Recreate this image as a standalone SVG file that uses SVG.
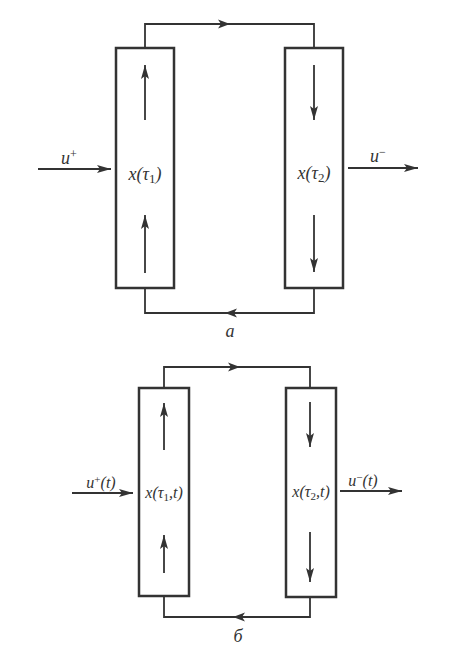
<svg xmlns="http://www.w3.org/2000/svg" width="460" height="662" viewBox="0 0 460 662">
<style>
.box{fill:none;stroke:#333;stroke-width:2.5}
.ln{fill:none;stroke:#333;stroke-width:1.8}
.ar{fill:#333}
text{font-family:"Liberation Serif","DejaVu Serif",serif;fill:#333}
.v{font-style:italic;font-size:18px}
.vs{font-style:italic;font-size:16px}
.lab{font-style:italic;font-size:18px}
</style>
<defs>
<marker id="ah" viewBox="0 0 14 8" refX="14" refY="4" markerWidth="14" markerHeight="8" markerUnits="userSpaceOnUse" orient="auto">
<path d="M0,0 L14,4 L0,8 L3,4 Z" fill="#333"/>
</marker>
</defs>
<rect width="460" height="662" fill="#fff"/>

<g id="connectors">
<path class="ln" d="M145,48 V24 H314 V48"/>
<path class="ln" d="M145,288 V313 H314 V288"/>
<path class="ar" d="M230,24 L218,19.5 L221,24 L218,28.5 Z"/>
<path class="ar" d="M225,313 L237,308.5 L234,313 L237,317.5 Z"/>
<line class="ln" x1="38" y1="169" x2="111" y2="169" marker-end="url(#ah)"/>
<line class="ln" x1="348" y1="168" x2="418" y2="168" marker-end="url(#ah)"/>
<path class="ln" d="M164,388 V367 H310 V388"/>
<path class="ln" d="M164,596 V617 H310 V597"/>
<path class="ar" d="M240,367 L228,362.5 L231,367 L228,371.5 Z"/>
<path class="ar" d="M233,617 L245,612.5 L242,617 L245,621.5 Z"/>
<line class="ln" x1="72" y1="493" x2="133" y2="493" marker-end="url(#ah)"/>
<line class="ln" x1="340" y1="491" x2="402" y2="491" marker-end="url(#ah)"/>
</g>

<g id="box-a1">
<rect class="box" x="116" y="48" width="58" height="240"/>
<line class="ln" x1="145" y1="120" x2="145" y2="65" marker-end="url(#ah)"/>
<line class="ln" x1="145" y1="273" x2="145" y2="215" marker-end="url(#ah)"/>
<text class="v" x="145" y="180" text-anchor="middle">x(τ<tspan font-style="normal" font-size="13" dy="3">1</tspan><tspan dy="-3">)</tspan></text>
</g>
<g id="box-a2">
<rect class="box" x="285" y="48" width="58" height="240"/>
<line class="ln" x1="314" y1="65" x2="314" y2="120" marker-end="url(#ah)"/>
<line class="ln" x1="314" y1="215" x2="314" y2="272" marker-end="url(#ah)"/>
<text class="v" x="314" y="179" text-anchor="middle">x(τ<tspan font-style="normal" font-size="13" dy="3">2</tspan><tspan dy="-3">)</tspan></text>
</g>
<text class="v" x="69" y="164" text-anchor="middle">u<tspan font-style="normal" font-size="12" dy="-6">+</tspan></text>
<text class="v" x="378" y="162" text-anchor="middle">u<tspan font-style="normal" font-size="12" dy="-6">−</tspan></text>
<text class="lab" x="230" y="337" text-anchor="middle">a</text>

<g id="box-b1">
<rect class="box" x="139" y="388" width="50" height="208"/>
<line class="ln" x1="164" y1="450" x2="164" y2="403" marker-end="url(#ah)"/>
<line class="ln" x1="164" y1="573" x2="164" y2="535" marker-end="url(#ah)"/>
<text class="vs" x="164" y="498" text-anchor="middle">x(τ<tspan font-style="normal" font-size="11" dy="3">1</tspan><tspan dy="-3">,t)</tspan></text>
</g>
<g id="box-b2">
<rect class="box" x="286" y="388" width="50" height="209"/>
<line class="ln" x1="310" y1="402" x2="310" y2="447" marker-end="url(#ah)"/>
<line class="ln" x1="310" y1="532" x2="310" y2="582" marker-end="url(#ah)"/>
<text class="vs" x="311" y="497" text-anchor="middle">x(τ<tspan font-style="normal" font-size="11" dy="3">2</tspan><tspan dy="-3">,t)</tspan></text>
</g>
<text class="vs" x="101" y="488" text-anchor="middle">u<tspan font-style="normal" font-size="11" dy="-5">+</tspan><tspan dy="5">(t)</tspan></text>
<text class="vs" x="363" y="486" text-anchor="middle">u<tspan font-style="normal" font-size="11" dy="-5">−</tspan><tspan dy="5">(t)</tspan></text>
<text class="lab" x="238" y="642" text-anchor="middle">б</text>
</svg>
